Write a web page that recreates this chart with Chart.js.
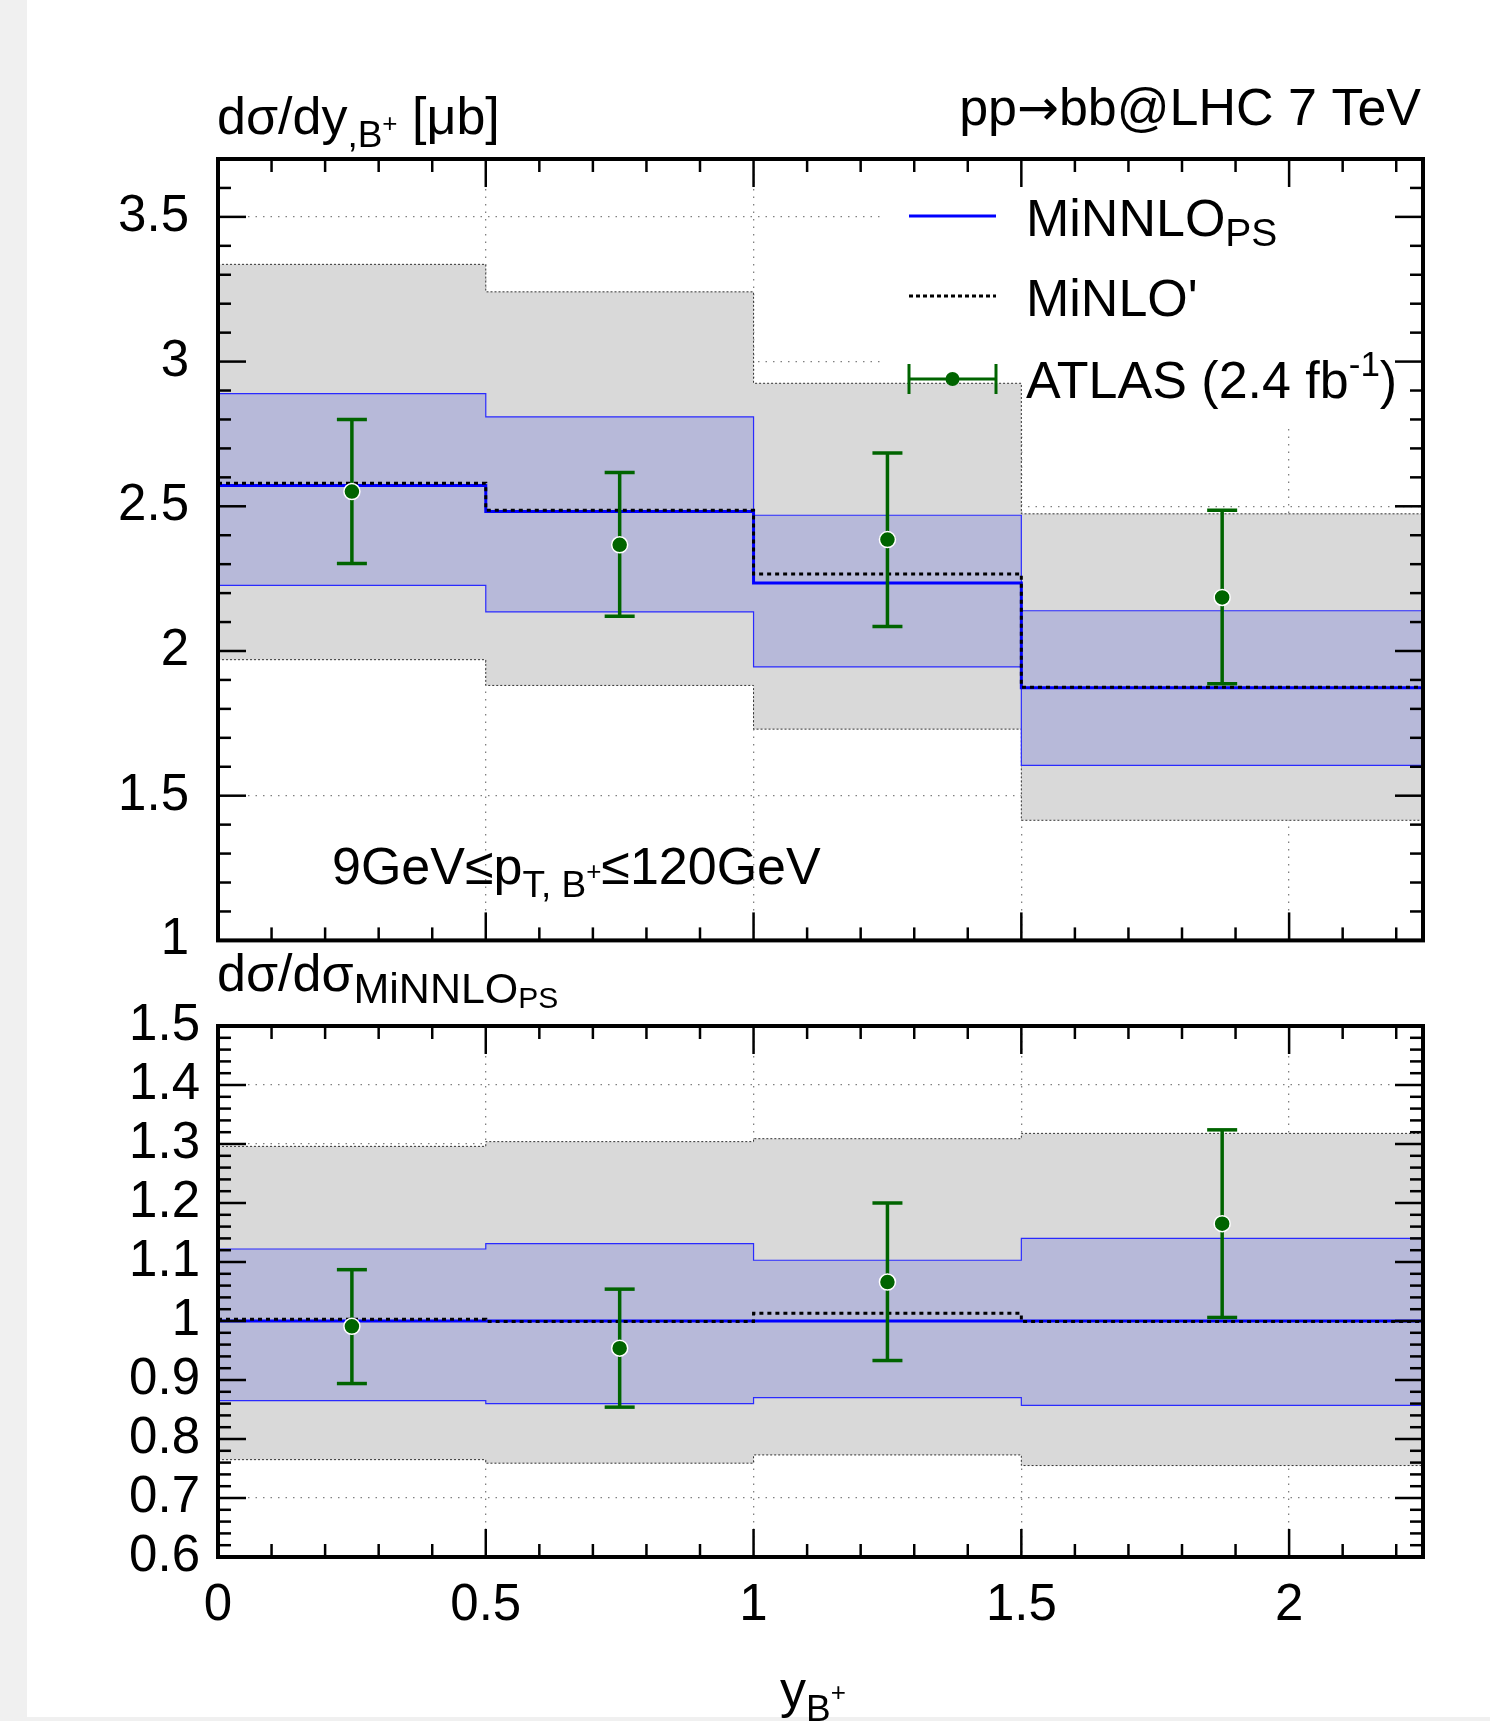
<!DOCTYPE html>
<html>
<head>
<meta charset="utf-8">
<script src="https://cdn.jsdelivr.net/npm/chart.js@4/dist/chart.umd.min.js"></script>
<style>
  html, body { margin: 0; padding: 0; background: #f0f0f0; }
  #page { position: relative; width: 1490px; height: 1721px; overflow: hidden; }
  #sheet { position: absolute; left: 27px; top: 0; width: 1463px; height: 1717px; background: #fff; }
  canvas { position: absolute; left: 0; }
  #top { top: 0; }
  #ratio { top: 941px; }
</style>
</head>
<body>
<div id="page">
  <div id="sheet"></div>
  <canvas id="top" width="1490" height="1000"></canvas>
  <canvas id="ratio" width="1490" height="780"></canvas>
</div>
<script>
// bins in y_B+
const binEdges = [0, 0.5, 1, 1.5, 2.25];
const binCenters = [0.25, 0.75, 1.25, 1.875];
const xTicks = [0, 0.5, 1, 1.5, 2];
const topYTicks = [1, 1.5, 2, 2.5, 3, 3.5];
const ratioYTicks = [0.6, 0.7, 0.8, 0.9, 1, 1.1, 1.2, 1.3, 1.4, 1.5];

// dσ/dy [μb]
const minnlo = [2.572, 2.482, 2.235, 1.873];
const minnloUp = [2.889, 2.809, 2.469, 2.139];
const minnloDn = [2.227, 2.135, 1.945, 1.605];
const minlo = [2.580, 2.486, 2.266, 1.875];
const minloUp = [3.336, 3.241, 2.925, 2.474];
const minloDn = [1.970, 1.881, 1.730, 1.415];
const atlas = [2.551, 2.367, 2.385, 2.185];
const atlasUp = [2.800, 2.617, 2.684, 2.486];
const atlasDn = [2.302, 2.120, 2.085, 1.887];

// ratio to MiNNLO_PS
const minnloRatio = [1, 1, 1, 1];
const minnloRatioUp = [1.122, 1.131, 1.103, 1.140];
const minnloRatioDn = [0.865, 0.860, 0.870, 0.857];
const minloRatio = [1.003, 0.999, 1.013, 0.999];
const minloRatioUp = [1.296, 1.304, 1.309, 1.318];
const minloRatioDn = [0.765, 0.759, 0.773, 0.755];
const atlasRatio = [0.991, 0.954, 1.066, 1.165];
const atlasRatioUp = [1.087, 1.054, 1.200, 1.324];
const atlasRatioDn = [0.894, 0.854, 0.933, 1.006];

const FONT = '"Liberation Sans", Arial, sans-serif';
const GREEN = '#006400';

function steps(vals) {
  return binEdges.map((x, i) => ({ x, y: vals[Math.min(i, vals.length - 1)] }));
}
function points(vals) {
  return binCenters.map((x, i) => ({ x, y: vals[i] }));
}

// index 0 is drawn last (on top)
function panelDatasets(c) {
  const band = { stepped: true, pointRadius: 0, tension: 0 };
  return [
    { data: points(c.atlas), errLo: c.atlasDn, errHi: c.atlasUp, showLine: false,
      pointRadius: 8, pointBackgroundColor: GREEN, pointBorderColor: '#fff', pointBorderWidth: 1.5 },
    { ...band, data: steps(c.minlo), borderColor: '#000', borderWidth: 3, borderDash: [4, 4], fill: false },
    { ...band, data: steps(c.minnlo), borderColor: '#0000ff', borderWidth: 3, fill: false },
    { ...band, data: steps(c.minnloUp), borderColor: '#2a2aff', borderWidth: 1.2, fill: false },
    { ...band, data: steps(c.minnloDn), borderColor: '#2a2aff', borderWidth: 1.2, fill: '-1', backgroundColor: '#b7b9d9' },
    { ...band, data: steps(c.minloUp), borderColor: '#333', borderWidth: 1, borderDash: [2, 2], fill: false },
    { ...band, data: steps(c.minloDn), borderColor: '#333', borderWidth: 1, borderDash: [2, 2], fill: '-1', backgroundColor: '#d9d9d9' }
  ];
}

function scaleOpts(yMin, yMax, yTicks, showX, yPad) {
  const grid = { color: '#808080', lineWidth: 1.3, drawTicks: false };
  const border = { display: false, dash: [1.5, 6] };
  const ticks = { font: { family: FONT, size: 51 }, color: '#000', autoSkip: false, maxRotation: 0,
                  callback: v => String(v) };
  return {
    x: {
      type: 'linear', min: 0, max: 2.25,
      afterBuildTicks: s => { s.ticks = xTicks.map(v => ({ value: v })); },
      afterFit: s => { s.height = showX ? 164 : 0; },
      grid, border, ticks: { ...ticks, display: showX, padding: 18 }
    },
    y: {
      type: 'linear', min: yMin, max: yMax,
      afterBuildTicks: s => { s.ticks = yTicks.map(v => ({ value: v })); },
      afterFit: s => { s.width = 218; },
      grid, border, ticks: { ...ticks, padding: yPad }
    }
  };
}

// parts: [text, size, dy, family]
function rich(ctx, x, y, parts, align) {
  const fontOf = p => p[1] + 'px ' + (p[3] || FONT);
  let w = 0;
  parts.forEach(p => { ctx.font = fontOf(p); w += ctx.measureText(p[0]).width; });
  let cx = align === 'right' ? x - w : align === 'center' ? x - w / 2 : x;
  ctx.textAlign = 'left';
  ctx.textBaseline = 'alphabetic';
  ctx.fillStyle = '#000';
  parts.forEach(p => {
    ctx.font = fontOf(p);
    ctx.fillText(p[0], cx, y + (p[2] || 0));
    cx += ctx.measureText(p[0]).width;
  });
}

function seg(ctx, x1, y1, x2, y2) {
  ctx.beginPath(); ctx.moveTo(x1, y1); ctx.lineTo(x2, y2); ctx.stroke();
}

function drawFrame(chart, yStep) {
  const { ctx, chartArea: a, scales: { x, y } } = chart;
  ctx.save();
  ctx.strokeStyle = '#000';
  ctx.lineWidth = 2.5;
  for (let i = 1; i <= 22; i++) {
    const px = x.getPixelForValue(i / 10);
    const len = i % 5 === 0 ? 28 : 13;
    seg(ctx, px, a.top, px, a.top + len);
    seg(ctx, px, a.bottom, px, a.bottom - len);
  }
  const n0 = Math.round(y.min / yStep), n1 = Math.round(y.max / yStep);
  const perMajor = Math.round((yStep === 0.1 ? 0.5 : 0.1) / yStep);
  for (let k = n0 + 1; k < n1; k++) {
    const py = y.getPixelForValue(k * yStep);
    const len = k % perMajor === 0 ? 28 : 13;
    seg(ctx, a.left, py, a.left + len, py);
    seg(ctx, a.right, py, a.right - len, py);
  }
  ctx.lineWidth = 4;
  ctx.strokeRect(a.left, a.top, a.right - a.left, a.bottom - a.top);
  ctx.restore();
}

const errorBars = {
  id: 'errorBars',
  beforeDatasetDraw(chart, args) {
    const ds = chart.data.datasets[args.index];
    if (!ds.errLo) return;
    const { ctx, chartArea: a, scales: { x, y } } = chart;
    ctx.save();
    ctx.beginPath();
    ctx.rect(a.left, a.top, a.right - a.left, a.bottom - a.top);
    ctx.clip();
    ctx.strokeStyle = GREEN;
    ctx.lineWidth = 3.5;
    ds.data.forEach((p, i) => {
      const px = x.getPixelForValue(p.x);
      const lo = y.getPixelForValue(ds.errLo[i]);
      const hi = y.getPixelForValue(ds.errHi[i]);
      seg(ctx, px, lo, px, hi);
      seg(ctx, px - 15, lo, px + 15, lo);
      seg(ctx, px - 15, hi, px + 15, hi);
    });
    ctx.restore();
  }
};

const topDecor = {
  id: 'topDecor',
  beforeDatasetsDraw(chart) {
    // legend area hides the grid
    const { ctx, chartArea: a } = chart;
    ctx.save();
    ctx.fillStyle = '#fff';
    ctx.fillRect(882, a.top, a.right - 882, 423 - a.top);
    ctx.restore();
  },
  afterDraw(chart) {
    const { ctx } = chart;
    drawFrame(chart, 0.1);
    ctx.save();
    rich(ctx, 217, 134, [['dσ/dy', 52], [',B', 37, 13], ['+', 26, -2], [' [μb]', 52]]);
    rich(ctx, 1421, 125, [['pp', 52], ['→', 50, 0, '"DejaVu Sans", sans-serif'], ['bb@LHC 7 TeV', 52]], 'right');
    rich(ctx, 332, 884, [['9GeV≤p', 52], ['T, B', 37, 13], ['+', 26, -4], ['≤120GeV', 52]]);

    // legend
    ctx.lineWidth = 3;
    ctx.strokeStyle = '#0000ff';
    seg(ctx, 909, 216, 996, 216);
    ctx.strokeStyle = '#000';
    ctx.setLineDash([4, 3]);
    seg(ctx, 909, 296, 996, 296);
    ctx.setLineDash([]);
    ctx.strokeStyle = GREEN;
    seg(ctx, 909, 379, 996, 379);
    seg(ctx, 909, 364, 909, 394);
    seg(ctx, 996, 364, 996, 394);
    ctx.fillStyle = GREEN;
    ctx.beginPath(); ctx.arc(952.5, 379, 7, 0, Math.PI * 2); ctx.fill();
    rich(ctx, 1026, 236, [['MiNNLO', 52], ['PS', 39, 10]]);
    rich(ctx, 1026, 316, [["MiNLO'", 52]]);
    rich(ctx, 1026, 398, [['ATLAS (2.4 fb', 52], ['-1', 35, -22], [')', 52]]);
    ctx.restore();
  }
};

const ratioDecor = {
  id: 'ratioDecor',
  afterDraw(chart) {
    const { ctx } = chart;
    drawFrame(chart, 0.02);
    ctx.save();
    rich(ctx, 217, 50, [['dσ/dσ', 52], ['MiNNLO', 43, 12], ['PS', 30, 17]]);
    rich(ctx, 813, 766, [['y', 52], ['B', 37, 14], ['+', 26, -6]], 'center');
    ctx.restore();
  }
};

function makeChart(id, c, yMin, yMax, yTicks, showX, yPad, padding, decor) {
  return new Chart(document.getElementById(id), {
    type: 'line',
    data: { datasets: panelDatasets(c) },
    options: {
      responsive: false,
      animation: false,
      devicePixelRatio: 1,
      events: [],
      layout: { padding },
      scales: scaleOpts(yMin, yMax, yTicks, showX, yPad),
      plugins: { legend: { display: false }, tooltip: { enabled: false } }
    },
    plugins: [errorBars, decor]
  });
}

makeChart('top', { atlas, atlasUp, atlasDn, minlo, minloUp, minloDn, minnlo, minnloUp, minnloDn },
  1, 3.7, topYTicks, false, 29, { left: 0, top: 159, right: 67, bottom: 59 }, topDecor);

makeChart('ratio', { atlas: atlasRatio, atlasUp: atlasRatioUp, atlasDn: atlasRatioDn,
                     minlo: minloRatio, minloUp: minloRatioUp, minloDn: minloRatioDn,
                     minnlo: minnloRatio, minnloUp: minnloRatioUp, minnloDn: minnloRatioDn },
  0.6, 1.5, ratioYTicks, true, 18, { left: 0, top: 85, right: 67, bottom: 0 }, ratioDecor);
</script>
</body>
</html>
